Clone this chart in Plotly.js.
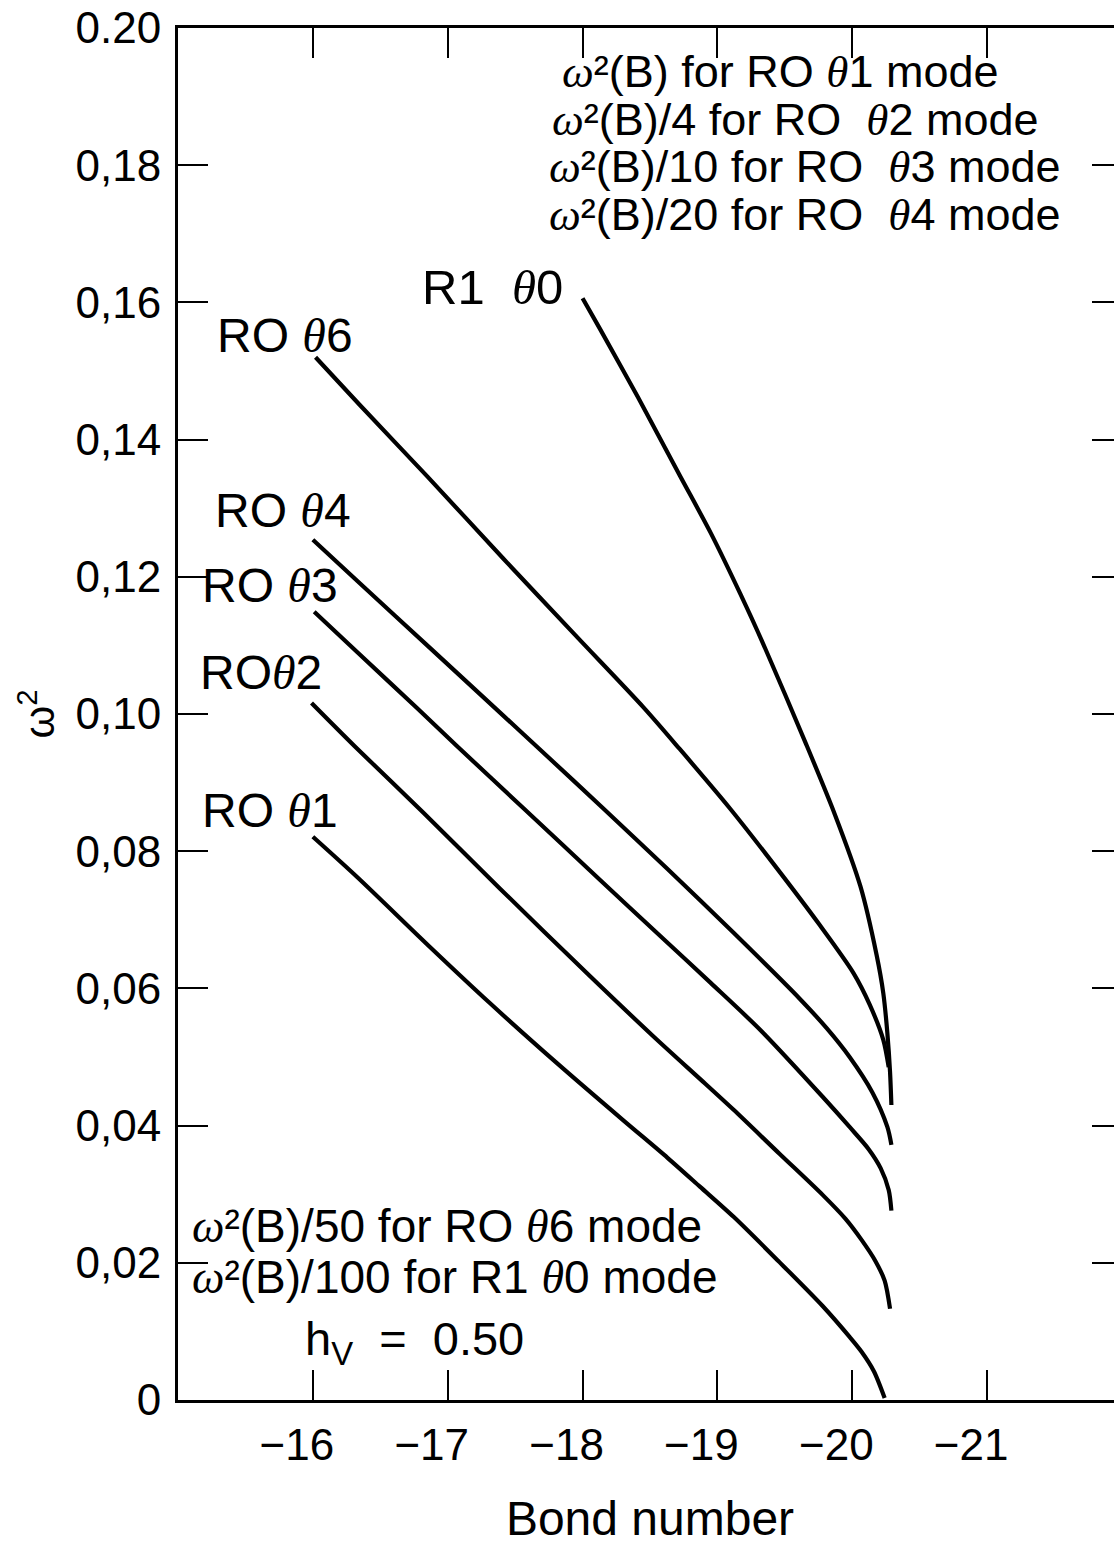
<!DOCTYPE html>
<html>
<head>
<meta charset="utf-8">
<script src="https://cdn.plot.ly/plotly-3.0.1.min.js"></script>
<style>
html, body { margin:0; padding:0; overflow:hidden; background:#fff; }
#chart { width:1130px; height:1545px; }
</style>
</head>
<body>
<div id="chart"></div>
<script>
// Axis ticks
const xTickVals = [-16, -17, -18, -19, -20, -21];
const xTickText = ['\u221216', '\u221217', '\u221218', '\u221219', '\u221220', '\u221221'];
const yTickVals = [0, 0.02, 0.04, 0.06, 0.08, 0.10, 0.12, 0.14, 0.16, 0.18, 0.20];
const yTickText = ['0', '0,02', '0,04', '0,06', '0,08', '0,10', '0,12', '0,14', '0,16', '0,18', '0.20'];

// RO theta1 mode: omega^2(B)
const ro1Bond  = [-16.00, -16.33, -16.87, -17.31, -17.81, -18.30, -18.63, -18.87, -19.12, -19.46, -19.78, -19.98, -20.07, -20.16, -20.24];
const ro1Omega = [0.0821, 0.0762, 0.0660, 0.0579, 0.0491, 0.0408, 0.0353, 0.0311, 0.0267, 0.0201, 0.0137, 0.0092, 0.0070, 0.0042, 0.0003];

// RO theta2 mode: omega^2(B)/4
const ro2Bond  = [-15.99, -16.31, -16.82, -17.39, -18.06, -18.52, -18.91, -19.12, -19.46, -19.78, -19.95, -20.07, -20.17, -20.24, -20.28];
const ro2Omega = [0.1016, 0.0953, 0.0856, 0.0745, 0.0617, 0.0531, 0.0461, 0.0423, 0.0359, 0.0299, 0.0264, 0.0233, 0.0203, 0.0174, 0.0133];

// RO theta3 mode: omega^2(B)/10
const ro3Bond  = [-16.01, -16.33, -16.77, -17.07, -17.56, -18.13, -18.60, -18.95, -19.32, -19.78, -19.98, -20.12, -20.21, -20.27, -20.29];
const ro3Omega = [0.1149, 0.1090, 0.1009, 0.0953, 0.0863, 0.0758, 0.0672, 0.0608, 0.0539, 0.0442, 0.0398, 0.0366, 0.0338, 0.0306, 0.0276];

// RO theta4 mode: omega^2(B)/20
const ro4Bond  = [-16.00, -16.33, -16.87, -17.41, -17.68, -18.15, -18.63, -19.12, -19.61, -19.81, -19.98, -20.15, -20.26, -20.29];
const ro4Omega = [0.1254, 0.1194, 0.1096, 0.0998, 0.0949, 0.0863, 0.0774, 0.0681, 0.0585, 0.0542, 0.0500, 0.0448, 0.0398, 0.0372];

// RO theta6 mode: omega^2(B)/50
const ro6Bond  = [-16.02, -16.35, -16.85, -17.41, -17.96, -18.45, -18.72, -19.09, -19.41, -19.76, -20.01, -20.13, -20.23, -20.27];
const ro6Omega = [0.1520, 0.1450, 0.1346, 0.1227, 0.1112, 0.1010, 0.0949, 0.0863, 0.0783, 0.0692, 0.0622, 0.0576, 0.0525, 0.0485];

// R1 theta0 mode: omega^2(B)/100
const r1Bond  = [-18.00, -18.13, -18.41, -18.72, -18.95, -19.17, -19.34, -19.66, -19.87, -20.06, -20.18, -20.23, -20.26, -20.28, -20.29];
const r1Omega = [0.1606, 0.1561, 0.1462, 0.1348, 0.1264, 0.1175, 0.1102, 0.0955, 0.0854, 0.0749, 0.0649, 0.0593, 0.0535, 0.0478, 0.0430];

const series = [
  {name: 'RO θ1', x: ro1Bond, y: ro1Omega},
  {name: 'RO θ2', x: ro2Bond, y: ro2Omega},
  {name: 'RO θ3', x: ro3Bond, y: ro3Omega},
  {name: 'RO θ4', x: ro4Bond, y: ro4Omega},
  {name: 'RO θ6', x: ro6Bond, y: ro6Omega},
  {name: 'R1 θ0', x: r1Bond, y: r1Omega}
];

const traces = series.map(s => ({
  type: 'scatter', mode: 'lines', name: s.name, x: s.x, y: s.y,
  line: {color: '#000', width: 4.2, shape: 'spline', smoothing: 0.8},
  showlegend: false, hoverinfo: 'skip'
}));

const SANS = 'Liberation Sans, Arial, sans-serif';
const th = '<span style="font-family:\'Liberation Serif\',serif"><i>θ</i></span>';
const om = '<span style="font-family:\'Liberation Serif\',serif"><i>ω</i></span>²';

function ann(text, x, y, size) {
  return {text: text, x: x, y: y, xref: 'x', yref: 'y', xanchor: 'left', yanchor: 'middle',
          showarrow: false, font: {family: SANS, size: size || 48, color: '#000'}};
}

const annotations = [
  ann('RO ' + th + '6', -15.274, 0.1552),
  ann('RO ' + th + '4', -15.26, 0.1297),
  ann('RO ' + th + '3', -15.163, 0.1188),
  ann('RO' + th + '2', -15.148, 0.1060),
  ann('RO ' + th + '1', -15.163, 0.0860),
  ann('R1  ' + th + '0', -16.794, 0.1622, 49),
  ann(om + '(B) for RO ' + th + '1 mode', -17.83, 0.1937, 45),
  ann(om + '(B)/4 for RO  ' + th + '2 mode', -17.76, 0.1867, 45),
  ann(om + '(B)/10 for RO  ' + th + '3 mode', -17.735, 0.1798, 45),
  ann(om + '(B)/20 for RO  ' + th + '4 mode', -17.735, 0.1728, 45),
  ann(om + '(B)/50 for RO ' + th + '6 mode', -15.089, 0.0253, 46),
  ann(om + '(B)/100 for R1 ' + th + '0 mode', -15.089, 0.0180, 46),
  ann('h<sub>V</sub>  =  0.50', -15.927, 0.0085, 47)
];

const axisCommon = {
  ticks: 'inside', ticklen: 30, tickwidth: 2, tickcolor: '#000',
  showline: true, linewidth: 3, linecolor: '#000', mirror: 'ticks',
  showgrid: false, zeroline: false,
  tickfont: {family: SANS, size: 44, color: '#000'}
};

const layout = {
  width: 1130, height: 1545,
  margin: {l: 178, r: 8, t: 28, b: 145},
  paper_bgcolor: '#fff', plot_bgcolor: '#fff',
  xaxis: Object.assign({}, axisCommon, {
    range: [-15, -22], tickmode: 'array', tickvals: xTickVals, ticktext: xTickText,
    ticklabelshift: 16, ticklabelstandoff: 4,
    title: {text: 'Bond number', font: {family: SANS, size: 48, color: '#000'}, standoff: 38}
  }),
  yaxis: Object.assign({}, axisCommon, {
    range: [0, 0.2], tickmode: 'array', tickvals: yTickVals, ticktext: yTickText,
    ticklabelstandoff: 5,
    title: {text: 'ω<sup>2</sup>', font: {family: SANS, size: 42, color: '#000'}, standoff: 8}
  }),
  annotations: annotations
};

Plotly.newPlot('chart', traces, layout, {displayModeBar: false, staticPlot: true});
</script>
</body>
</html>
